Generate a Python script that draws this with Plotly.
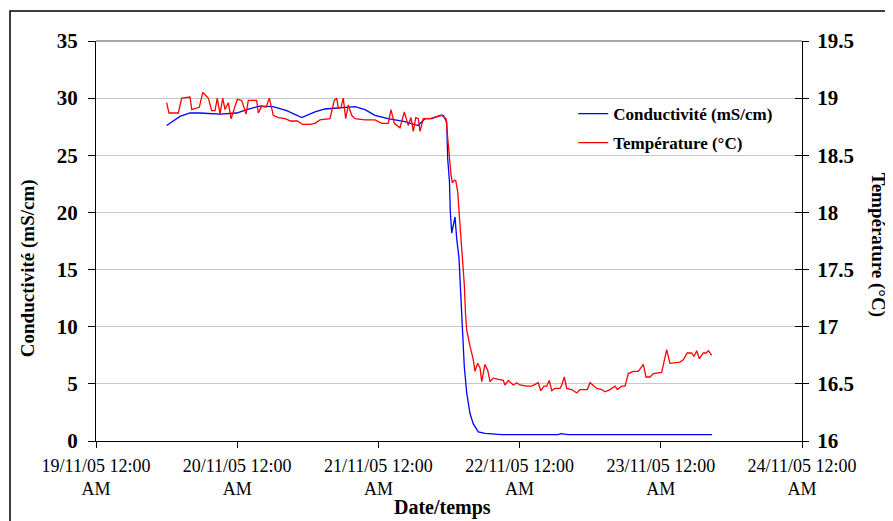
import pandas as pd
import plotly.graph_objects as go

# hours elapsed since 19/11/05 00:00
cond_hours = [12.0, 14.28, 15.98, 17.68, 21.08, 23.92, 25.61, 27.88, 30.09, 32.41,
              34.96, 36.37, 37.22, 38.92, 44.02, 45.72, 47.42, 49.63, 52.52, 54.73,
              55.92, 57.06, 58.47, 59.03, 59.61, 59.78, 60.08, 60.22, 60.46, 61.02,
              61.31, 61.7, 61.87, 62.16, 62.6, 63.01, 63.57, 64.13, 64.98, 66.12,
              68.38, 68.96, 75.47, 78.53, 79.04, 79.72, 80.23, 104.7]
cond_values = [27.6, 28.4, 28.7, 28.7, 28.6, 28.7, 29.0, 29.3, 29.25, 28.9,
               28.3, 28.6, 28.8, 29.05, 29.25, 29.0, 28.5, 28.2, 27.95, 27.6,
               28.2, 28.2, 28.5, 28.5, 27.9, 24.7, 22.7, 20.1, 18.2, 19.6,
               17.7, 16.0, 14.1, 11.2, 6.5, 4.2, 2.4, 1.5, 0.8, 0.67,
               0.6, 0.55, 0.55, 0.55, 0.65, 0.6, 0.55, 0.55]

temp_hours = [12.0, 12.41, 13.99, 14.57, 15.98, 16.27, 17.56, 18.14, 19.09, 19.67,
              20.23, 20.62, 21.08, 21.54, 21.93, 22.49, 22.95, 24.02, 24.77, 25.5,
              25.89, 26.64, 27.31, 27.59, 28.17, 28.9, 29.46, 30.14, 30.99, 32.13,
              33.09, 34.22, 35.13, 36.37, 37.22, 38.07, 39.77, 40.5, 40.91, 41.19,
              41.64, 42.03, 42.44, 42.88, 43.46, 44.02, 45.72, 47.42, 48.56, 49.68,
              50.14, 50.7, 51.67, 52.4, 53.08, 53.54, 53.93, 54.34, 54.78, 55.07,
              55.63, 56.77, 57.91, 58.76, 59.49, 59.78, 60.0, 60.34, 60.56, 60.9,
              61.14, 61.48, 61.87, 62.26, 62.6, 62.8, 63.01, 63.57, 64.13, 64.42,
              64.88, 65.27, 65.56, 66.12, 66.58, 66.97, 67.53, 68.38, 69.23, 69.52,
              70.08, 70.93, 71.51, 72.07, 73.21, 74.06, 75.18, 75.59, 76.15, 76.61,
              77.05, 77.46, 78.02, 78.87, 79.16, 79.6, 80.01, 80.86, 81.71, 82.27,
              83.51, 83.97, 85.11, 85.96, 86.52, 87.37, 88.22, 88.61, 89.36, 89.92,
              90.48, 91.33, 92.18, 93.03, 93.49, 94.17, 94.73, 96.15, 97.0, 97.56,
              99.26, 99.82, 100.5, 101.25, 101.64, 102.1, 102.55, 103.23, 103.69, 104.08,
              104.65]
temp_values = [18.96, 18.87, 18.87, 19.0, 19.01, 18.9, 18.92, 19.05, 19.0, 18.89,
               18.89, 19.0, 18.86, 19.0, 18.9, 18.96, 18.82, 18.99, 18.98, 18.86,
               18.98, 18.98, 18.98, 18.87, 18.93, 18.92, 19.0, 18.85, 18.83, 18.82,
               18.8, 18.8, 18.77, 18.77, 18.78, 18.81, 18.82, 18.98, 19.0, 18.91,
               18.92, 19.0, 18.82, 18.94, 18.85, 18.82, 18.81, 18.81, 18.78, 18.78,
               18.9, 18.78, 18.74, 18.88, 18.76, 18.83, 18.71, 18.83, 18.82, 18.71,
               18.82, 18.82, 18.84, 18.85, 18.82, 18.65, 18.47, 18.33, 18.26, 18.28,
               18.28, 18.18, 17.89, 17.63, 17.37, 17.12, 16.97, 16.83, 16.71, 16.61,
               16.68, 16.64, 16.52, 16.67, 16.62, 16.52, 16.55, 16.54, 16.53, 16.49,
               16.53, 16.49, 16.51, 16.49, 16.48, 16.48, 16.51, 16.44, 16.48, 16.48,
               16.53, 16.44, 16.46, 16.46, 16.49, 16.56, 16.46, 16.45, 16.42, 16.45,
               16.45, 16.51, 16.46, 16.45, 16.43, 16.45, 16.48, 16.45, 16.48, 16.48,
               16.59, 16.61, 16.61, 16.67, 16.56, 16.56, 16.59, 16.6, 16.8, 16.68,
               16.69, 16.71, 16.77, 16.77, 16.74, 16.79, 16.72, 16.77, 16.77, 16.79,
               16.75]

tick_dates = ["2005-11-19", "2005-11-20", "2005-11-21", "2005-11-22", "2005-11-23", "2005-11-24"]
tick_labels = ["19/11/05 12:00<br>AM", "20/11/05 12:00<br>AM", "21/11/05 12:00<br>AM",
               "22/11/05 12:00<br>AM", "23/11/05 12:00<br>AM", "24/11/05 12:00<br>AM"]

start = pd.Timestamp("2005-11-19 00:00")
cond_time = [start + pd.Timedelta(hours=h) for h in cond_hours]
temp_time = [start + pd.Timedelta(hours=h) for h in temp_hours]

serif = "Liberation Serif"

fig = go.Figure()
fig.add_trace(go.Scatter(x=cond_time, y=cond_values, mode="lines", name="Conductivité (mS/cm)",
                         legendgroup="c", line=dict(color="#0000FF", width=1.3)))
fig.add_trace(go.Scatter(x=temp_time, y=temp_values, mode="lines", name="Température (°C)",
                         legendgroup="t", yaxis="y2", line=dict(color="#FF0000", width=1.3)))
# empty trace so the inner half of the right-axis ticks gets drawn (ticks cross the axis)
fig.add_trace(go.Scatter(x=[], y=[], yaxis="y3", showlegend=False, hoverinfo="skip"))

# the page has an 8px body margin, so the margins are shifted by that much
fig.update_layout(
    width=893, height=521,
    margin=dict(l=88, r=99, t=33, b=88),
    paper_bgcolor="white", plot_bgcolor="white",
    font=dict(family=serif, color="black"),
    showlegend=True,
    legend=dict(x=0.676, y=0.8625, xanchor="left", yanchor="top",
                bgcolor="rgba(0,0,0,0)", font=dict(size=17, weight="bold", family=serif),
                tracegroupgap=4, itemwidth=30),
    xaxis=dict(range=["2005-11-19", "2005-11-24"], tickvals=tick_dates, ticktext=tick_labels,
               ticks="outside", ticklen=6, tickcolor="black", showgrid=False,
               showline=True, linecolor="black", linewidth=1, automargin=False,
               ticklabelstandoff=2,
               tickfont=dict(size=18, family=serif)),
    yaxis=dict(range=[0, 35], dtick=5, ticks="outside", ticklen=7, tickcolor="black",
               showline=True, linecolor="black", linewidth=1, automargin=False,
               gridcolor="#c8c8c8", gridwidth=1, zeroline=False, ticklabelstandoff=6,
               tickfont=dict(size=21, weight="bold", family=serif)),
    yaxis2=dict(range=[16, 19.5], dtick=0.5, overlaying="y", side="right",
                ticks="outside", ticklen=6, tickcolor="black", showgrid=False,
                showline=True, linecolor="black", linewidth=1, zeroline=False,
                tickformat=".1~f", automargin=False, ticklabelstandoff=4,
                tickfont=dict(size=21, weight="bold", family=serif)),
    yaxis3=dict(range=[16, 19.5], dtick=0.5, overlaying="y", side="right",
                ticks="inside", ticklen=7, tickcolor="black", showgrid=False,
                showline=False, zeroline=False, showticklabels=False, automargin=False),
    annotations=[
        dict(text="Date/temps", xref="paper", yref="paper", x=0.491, y=-0.165,
             yanchor="middle", showarrow=False, font=dict(size=20, weight="bold", family=serif)),
        dict(text="Conductivité (mS/cm)", xref="paper", yref="paper", x=-0.096, y=0.4325,
             xanchor="center", yanchor="middle",
             textangle=-90, showarrow=False, font=dict(size=19, weight="bold", family=serif)),
        dict(text="Température (°C)", xref="paper", yref="paper", x=1.108, y=0.49,
             xanchor="center", yanchor="middle",
             textangle=90, showarrow=False, font=dict(size=19, weight="bold", family=serif)),
    ],
    shapes=[
        dict(type="line", xref="paper", yref="paper", x0=0, x1=1, y0=1, y1=1,
             line=dict(color="#888888", width=1.5)),
        dict(type="rect", xref="paper", yref="paper", x0=-0.1218, x1=1.3, y0=-0.3, y1=1.075,
             line=dict(color="black", width=1.5), layer="below"),
    ],
)

fig.write_html("out.html")
